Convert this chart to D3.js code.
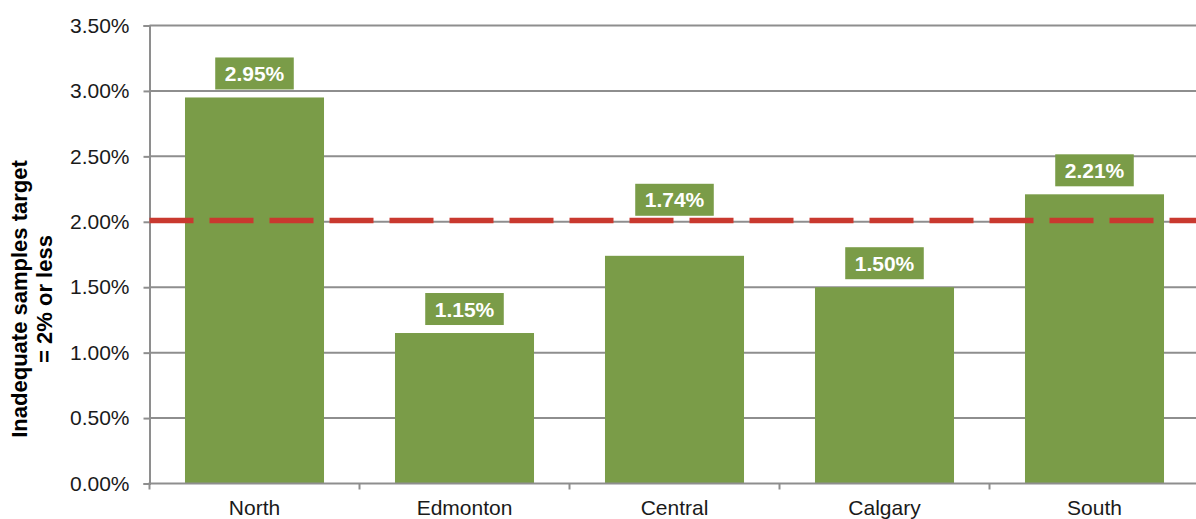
<!DOCTYPE html>
<html>
<head>
<meta charset="utf-8">
<script src="https://cdn.jsdelivr.net/npm/d3@7"></script>
<style>
  html, body { margin: 0; padding: 0; background: #fff; }
  svg { display: block; font-family: "Liberation Sans", Arial, sans-serif; }
</style>
</head>
<body>
<svg id="chart" width="1196" height="519"></svg>
<script>
const categories = ["North", "Edmonton", "Central", "Calgary", "South"];
const values = [2.95, 1.15, 1.74, 1.50, 2.21];
const valueLabels = ["2.95%", "1.15%", "1.74%", "1.50%", "2.21%"];
const yTicks = [0, 0.5, 1.0, 1.5, 2.0, 2.5, 3.0, 3.5];
const yTickLabels = ["0.00%", "0.50%", "1.00%", "1.50%", "2.00%", "2.50%", "3.00%", "3.50%"];
const target = [2.0];
const titleLines = ["Inadequate samples target", "= 2% or less"];

(function () {
const svg = d3.select("#chart");
const pLeft = 149.5, pRight = 1199.5, pTop = 25.5, pBottom = 483.5;
const barColor = "#7a9c48";
const gridColor = "#8e8e8e";

const x = d3.scaleBand().domain(categories).range([pLeft, pRight])
  .paddingInner(0.338).paddingOuter(0.169);
const y = d3.scaleLinear().domain([0, 3.5]).range([pBottom, pTop]);

// gridlines
svg.append("g").selectAll("line").data(yTicks.filter(t => t > 0)).join("line")
  .attr("x1", pLeft).attr("x2", 1196)
  .attr("y1", d => y(d)).attr("y2", d => y(d))
  .attr("stroke", gridColor).attr("stroke-width", 2);

// y axis
const yAxis = d3.axisLeft(y).tickValues(yTicks)
  .tickFormat((d, i) => yTickLabels[i]).tickSize(6).tickPadding(14);
const gy = svg.append("g").attr("transform", `translate(${pLeft},0)`).call(yAxis);
gy.select(".domain").attr("stroke", gridColor).attr("stroke-width", 2);
gy.selectAll(".tick line").attr("stroke", gridColor).attr("stroke-width", 2);
gy.selectAll(".tick text").attr("font-size", 21).attr("fill", "#1a1a1a")
  .attr("font-family", "'Liberation Sans', Arial, sans-serif");

// bars
svg.append("g").selectAll("rect").data(categories).join("rect")
  .attr("x", d => x(d)).attr("width", x.bandwidth())
  .attr("y", (d, i) => y(values[i])).attr("height", (d, i) => pBottom - y(values[i]))
  .attr("fill", barColor);

// x axis
const boundaries = d3.range(categories.length + 1).map(i => pLeft + i * x.step());
const gx = svg.append("g");
gx.append("line").attr("x1", pLeft - 1).attr("x2", 1196)
  .attr("y1", pBottom).attr("y2", pBottom)
  .attr("stroke", gridColor).attr("stroke-width", 2);
gx.selectAll("line.tk").data(boundaries).join("line").attr("class", "tk")
  .attr("x1", d => d).attr("x2", d => d)
  .attr("y1", pBottom).attr("y2", pBottom + 6)
  .attr("stroke", gridColor).attr("stroke-width", 2);
gx.selectAll("text").data(categories).join("text")
  .attr("x", d => x(d) + x.bandwidth() / 2).attr("y", 515)
  .attr("text-anchor", "middle").attr("font-size", 21).attr("fill", "#1a1a1a")
  .text(d => d);

// target line
svg.append("line")
  .attr("x1", pLeft).attr("x2", pRight)
  .attr("y1", y(target[0]) - 1.4).attr("y2", y(target[0]) - 1.4)
  .attr("stroke", "#c9392f").attr("stroke-width", 5.5)
  .attr("stroke-dasharray", "44,16");

// value labels
const boxH = 32, gap = 8;
const lg = svg.append("g");
categories.forEach((c, i) => {
  const cx = x(c) + x.bandwidth() / 2;
  let boxBottom = y(values[i]) - gap;
  const ty = y(target[0]);
  if (boxBottom > ty - 4 && boxBottom - boxH < ty + 4) boxBottom = ty - 6;
  const g = lg.append("g");
  const rect = g.append("rect").attr("fill", barColor);
  const t = g.append("text")
    .attr("x", cx).attr("y", boxBottom - boxH / 2)
    .attr("dy", "0.36em").attr("text-anchor", "middle")
    .attr("font-size", 21).attr("font-weight", "bold").attr("fill", "#fff")
    .text(valueLabels[i]);
  const w = t.node().getComputedTextLength() + 19;
  rect.attr("x", cx - w / 2).attr("width", w)
    .attr("y", boxBottom - boxH).attr("height", boxH);
});

// y title
const title = svg.append("text")
  .attr("transform", "translate(27,299) rotate(-90)")
  .attr("text-anchor", "middle").attr("font-size", 22).attr("font-weight", "bold")
  .attr("fill", "#000");
titleLines.forEach((l, i) => {
  title.append("tspan").attr("x", 0).attr("y", i * 25).text(l);
});
})();
</script>
</body>
</html>
